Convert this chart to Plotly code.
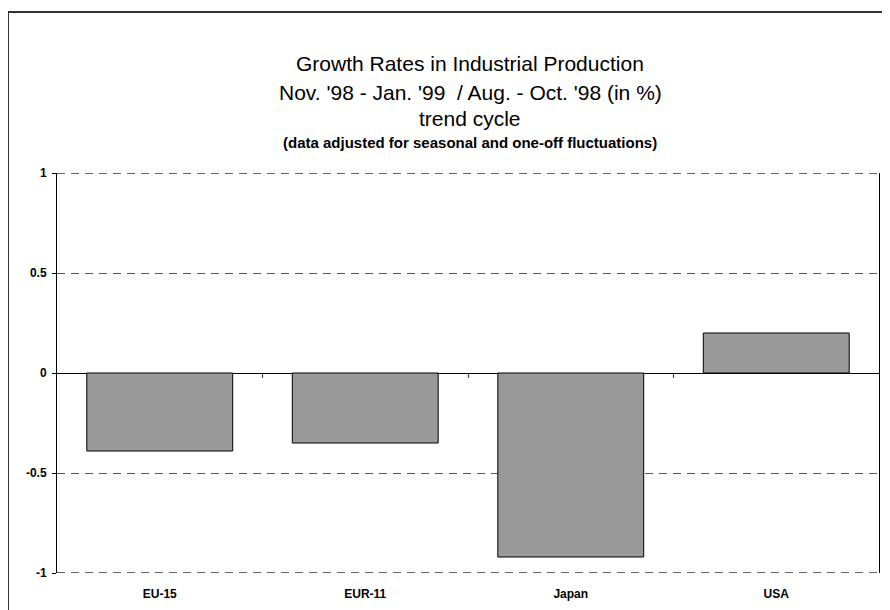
import plotly.graph_objects as go

categories = ["EU-15", "EUR-11", "Japan", "USA"]
growth = [-0.39, -0.35, -0.92, 0.20]
ytick_vals = [-1, -0.5, 0, 0.5, 1]
ytick_text = ["-1", "-0.5", "0", "0.5", "1"]
boundaries = [0.5, 1.5, 2.5]

W, H = 890, 610
OFF = 8  # page body margin
# plot area in page pixels: x 57..879, y 173..573
L, R, T, B = 57 - OFF, W - (879 - OFF), 173 - OFF, H - (573 - OFF)
pw, ph = W - L - R, H - T - B

def px_x(p):
    return (p - OFF - L) / pw

def px_y(p):
    return (H - B - (p - OFF)) / ph

FONT = "Liberation Sans, Arial, sans-serif"
xs = list(range(len(categories)))

fig = go.Figure()
fig.add_trace(go.Bar(
    x=xs, y=growth, width=0.71,
    marker=dict(color="#999999", line=dict(color="#000000", width=1)),
    showlegend=False, hoverinfo="skip",
))

fig.update_layout(
    width=W, height=H,
    margin=dict(l=L, r=R, t=T, b=B, pad=0),
    paper_bgcolor="white", plot_bgcolor="white",
    font=dict(family=FONT, color="#000000"),
    xaxis=dict(
        range=[-0.5, 3.5], tickmode="array", tickvals=xs, ticktext=categories,
        ticks="", showline=False, showgrid=False, zeroline=False,
        tickfont=dict(size=12, weight="bold", family=FONT),
        ticklabelstandoff=12,
    ),
    xaxis2=dict(
        overlaying="x", anchor="free", position=0.5, matches="x",
        range=[-0.5, 3.5], tickmode="array", tickvals=boundaries,
        ticks="outside", ticklen=4, tickwidth=1, tickcolor="#333333",
        showticklabels=False, showline=False, showgrid=False, zeroline=False,
    ),
    yaxis=dict(
        range=[-1, 1], tickmode="array", tickvals=ytick_vals, ticktext=ytick_text,
        ticks="outside", ticklen=4, tickwidth=1, tickcolor="#000000",
        showline=True, linecolor="#000000", linewidth=1, mirror=True,
        showgrid=True, gridcolor="#555555", griddash="8px,6px", gridwidth=1,
        zeroline=True, zerolinecolor="#000000", zerolinewidth=1,
        tickfont=dict(size=12, weight="bold", family=FONT),
        ticklabelstandoff=3,
    ),
)

# invisible trace so the boundary-tick axis is drawn
fig.add_trace(go.Scatter(x=[None], y=[None], xaxis="x2", yaxis="y",
                         showlegend=False, hoverinfo="skip"))

# dashed lines along the top and bottom of the plot area
for yv in (ytick_vals[0], ytick_vals[-1]):
    fig.add_shape(type="line", xref="paper", yref="y", x0=0, x1=1, y0=yv, y1=yv,
                  line=dict(color="#333333", width=1.5, dash="8px,6px"))

titles = [
    ("Growth Rates in Industrial Production", 63, 21, "normal"),
    ("Nov. '98 - Jan. '99  / Aug. - Oct. '98 (in %)", 92, 21, "normal"),
    ("trend cycle", 118, 21, "normal"),
    ("(data adjusted for seasonal and one-off fluctuations)", 142, 15, "bold"),
]
for text, yc, size, weight in titles:
    fig.add_annotation(
        text=text, xref="paper", yref="paper",
        x=px_x(470), y=px_y(yc), xanchor="center", yanchor="middle",
        showarrow=False, font=dict(size=size, family=FONT, weight=weight, color="#000000"),
    )

fig.add_shape(
    type="rect", xref="paper", yref="paper",
    x0=px_x(8), x1=px_x(905), y0=px_y(12), y1=px_y(640),
    line=dict(color="#333333", width=2), layer="below",
)

fig.write_html("out.html")
